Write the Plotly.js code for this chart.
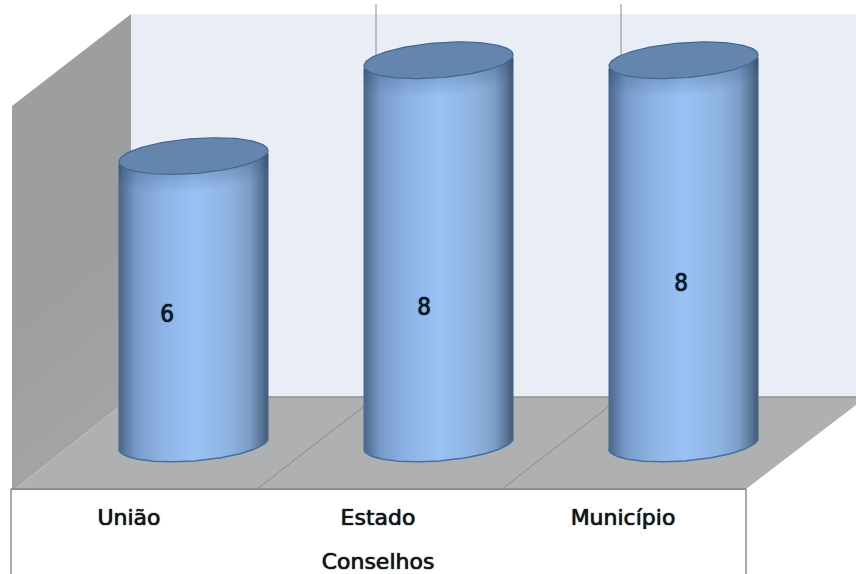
<!DOCTYPE html>
<html>
<head>
<meta charset="utf-8">
<script src="https://cdn.plot.ly/plotly-3.0.1.min.js"></script>
<style>html,body{margin:0;padding:0;background:#fff}#chart{width:856px;height:574px}</style>
</head>
<body>
<div id="chart"></div>
<script>
// Conselhos por esfera
const categories = ['União', 'Estado', 'Município'];
const values = [6, 8, 8];
const axisTitle = 'Conselhos';

// Figure geometry in pixels
const W = 856, H = 574;
const unitX = 245, unitY = 47.9;       // pixels per category / per value unit
const originX = 193.5, originY = 443.5; // centre of the first column's base
const radiusX = 74.5, radiusY = 17.5, tilt = 5.5;
const sliceWidth = 3;                  // slices overlap so the column stays opaque
const fontFace = '"DejaVu Sans", Verdana, sans-serif';
const digitFace = '"Liberation Sans Narrow", "DejaVu Sans Condensed", "DejaVu Sans", sans-serif';
const px = x => x / W;
const py = y => 1 - y / H;

// Lit-from-the-front shading across a column's width
const shadeStops = [[0, [72, 100, 136]], [0.04, [88, 118, 158]], [0.12, [120, 155, 202]], [0.3, [142, 180, 230]],
  [0.52, [155, 194, 245]], [0.75, [142, 179, 224]], [0.88, [124, 158, 199]], [0.96, [92, 120, 154]], [1, [68, 92, 122]]];
function shade(t) {
  for (let i = 1; i < shadeStops.length; i++) {
    const [t1, c1] = shadeStops[i], [t0, c0] = shadeStops[i - 1];
    if (t <= t1) {
      const f = (t - t0) / (t1 - t0);
      return 'rgb(' + c0.map((c, k) => Math.round(c + (c1[k] - c) * f)).join(',') + ')';
    }
  }
  return 'rgb(68,92,122)';
}

// Front rim of the tilted ellipse, in value units
const rimAt = u => (tilt * u - radiusY * Math.sqrt(Math.max(0, 1 - u * u))) / unitY;

const traces = [];
values.forEach((v, i) => {
  const xs = [], bases = [], colors = [];
  for (let p = -radiusX + 1; p <= radiusX - 1; p += 1) {
    const u = p / radiusX;
    xs.push(i + p / unitX);
    bases.push(rimAt(u));
    colors.push(shade((u + 1) / 2));
  }
  // Column body as overlapping slices standing on the lower rim
  traces.push({
    type: 'bar', x: xs, y: xs.map(() => v), base: bases, width: sliceWidth / unitX, opacity: 1,
    marker: { color: colors, opacity: 1, line: { width: 0 } }, hoverinfo: 'skip', showlegend: false
  });
  // Rim curve running the full width of the column
  const rimX = [], rimY = [];
  for (let p = -radiusX; p <= radiusX; p += 1) {
    rimX.push(i + p / unitX);
    rimY.push(rimAt(p / radiusX));
  }
  // Soft shadow just beneath the cap
  for (let d = 0; d < 9; d++) {
    traces.push({
      type: 'scatter', mode: 'lines', x: rimX, y: rimY.map(b => v + b - (d + 0.5) * 2 / unitY),
      line: { color: 'rgba(40,70,110,' + (0.2 * (1 - d / 9)).toFixed(3) + ')', width: 2 },
      hoverinfo: 'skip', showlegend: false
    });
  }
  // Lower rim edge
  traces.push({
    type: 'scatter', mode: 'lines', x: rimX, y: rimY,
    line: { color: '#46709f', width: 1.5 }, hoverinfo: 'skip', showlegend: false
  });
  // Top cap
  const capX = [], capY = [];
  for (let a = 0; a <= 360; a += 3) {
    const r = a * Math.PI / 180;
    const u = Math.cos(r);
    capX.push(i + u * radiusX / unitX);
    capY.push(v + (tilt * u + radiusY * Math.sin(r)) / unitY);
  }
  traces.push({
    type: 'scatter', mode: 'lines', x: capX, y: capY, fill: 'toself', fillcolor: '#6485ae',
    line: { color: '#43658f', width: 1.2 }, hoverinfo: 'skip', showlegend: false
  });
});

// Value labels
const labelShiftX = [-26.5, -14.5, -2.5], labelShiftY = [-16, -57, -33];
traces.push({
  type: 'scatter', mode: 'text',
  x: values.map((v, i) => i + labelShiftX[i] / unitX),
  y: values.map((v, i) => v / 2 + labelShiftY[i] / unitY),
  text: values.map(String), textposition: 'middle center',
  textfont: { family: digitFace, size: 24, color: '#0b1a2c', shadow: '0 0 1px rgba(0,0,0,0.9), 0 0 1px rgba(0,0,0,0.7)' },
  hoverinfo: 'skip', showlegend: false
});

// Category axis: sits on the front edge of the floor, so it is offset from the columns
const axisY = 489, axisRight = 756, firstTick = 133;
const tickNudge = [-4, 0, 0];
traces.push({ type: 'scatter', mode: 'markers', x: [0], y: [0], xaxis: 'x2', yaxis: 'y',
  marker: { opacity: 0, size: 1 }, hoverinfo: 'skip', showlegend: false });

const line = (x0, y0, x1, y1, color, width) => ({
  type: 'line', xref: 'paper', yref: 'paper', layer: 'below',
  x0: px(x0), y0: py(y0), x1: px(x1), y1: py(y1), line: { color, width }
});
const poly = (pts, color) => ({
  type: 'path', xref: 'paper', yref: 'paper', layer: 'below', fillcolor: color, line: { width: 0 },
  path: pts.map((p, k) => (k ? 'L' : 'M') + px(p[0]) + ',' + py(p[1])).join(' ') + ' Z'
});
// Side wall lightens gradually towards the floor
const wallBands = [0, 1, 2, 3, 4, 5].map(k => {
  const d = k * 30;
  return poly([[131, 247 + d], [12, 339 + d], [12, 489], [15, 489], [131, 397]], 'rgba(255,255,255,0.016)');
});
const gridColor = '#8c8d90', floorLine = '#8b8c8c', boxLine = '#8e8e8e';
const shapes = [
  poly([[131, 14], [856, 14], [856, 398], [131, 398]], '#e9edf6'),
  poly([[131, 14], [12, 106], [12, 489], [15, 489], [131, 397]], '#9d9e9f'),
  ...wallBands,
  poly([[131, 397], [856, 397], [856, 405], [746, 489], [15, 489]], '#aeb0b1'),
  line(131, 397, 856, 397, '#909191', 1.5),
  line(376, 4, 376, 100, gridColor, 1),
  line(621, 4, 621, 100, gridColor, 1),
  line(257, 489, 376, 397, floorLine, 1),
  line(502, 489, 621, 397, floorLine, 1),
  line(11, 489, 746, 489, boxLine, 2),
  line(11, 489, 11, 574, boxLine, 1.5),
  line(746, 489, 746, 574, boxLine, 1.5)
];

const labelFont = { family: fontFace, size: 22, color: '#12151b', shadow: '0 0 1px rgba(0,0,0,0.9), 0 0 1px rgba(0,0,0,0.6)' };

const layout = {
  width: W, height: H, margin: { l: 0, r: 0, t: 0, b: 0 },
  paper_bgcolor: '#fff', plot_bgcolor: 'rgba(0,0,0,0)', showlegend: false,
  barmode: 'overlay', shapes,
  xaxis: {
    domain: [0, 1], range: [-originX / unitX, (W - originX) / unitX], visible: false, fixedrange: true
  },
  yaxis: {
    domain: [0, 1], range: [(originY - H) / unitY, originY / unitY], visible: false, fixedrange: true
  },
  xaxis2: {
    domain: [0, axisRight / W], range: [-firstTick / unitX, (axisRight - firstTick) / unitX],
    side: 'bottom', anchor: 'free', position: py(axisY), fixedrange: true,
    tickmode: 'array', tickvals: categories.map((c, i) => i + tickNudge[i] / unitX), ticktext: categories,
    ticks: 'outside', ticklen: 9, tickcolor: 'rgba(0,0,0,0)', showgrid: false, zeroline: false, showline: false,
    tickfont: labelFont,
    title: { text: axisTitle, font: labelFont, standoff: 25 },
    automargin: false
  }
};

Plotly.newPlot('chart', traces, layout, { displayModeBar: false, staticPlot: true });
</script>
</body>
</html>
